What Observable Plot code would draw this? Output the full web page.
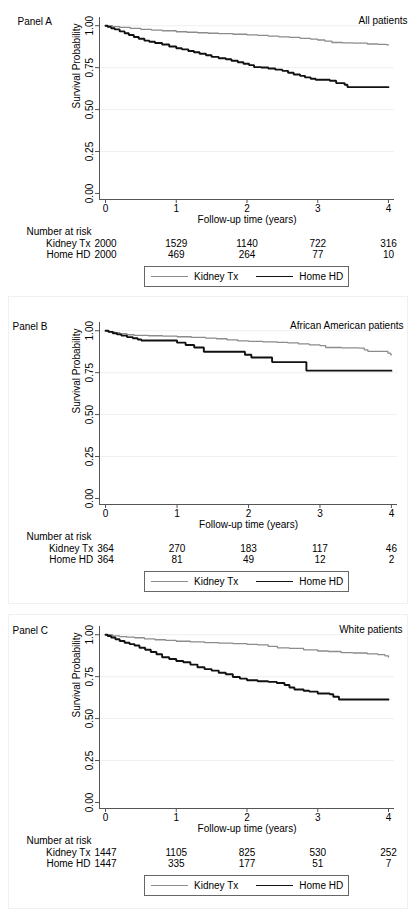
<!DOCTYPE html>
<html><head><meta charset="utf-8">
<script src="https://cdn.jsdelivr.net/npm/d3@7"></script>
<script src="https://cdn.jsdelivr.net/npm/@observablehq/plot@0.6"></script>
<style>
html,body{margin:0;padding:0;background:#fff;}
#root{position:relative;width:418px;height:918px;overflow:hidden;font-family:"Liberation Sans",Arial,Helvetica,sans-serif;color:#000;}
.panel{position:absolute;left:0;width:418px;}
.pbox{position:absolute;border:1px solid #f0f0f0;box-sizing:border-box;}
.legend{position:absolute;border:1px solid #666;box-sizing:border-box;background:#fff;display:flex;align-items:center;font-size:10px;}
.legend .sw{display:inline-block;height:0;}
.legend span{white-space:nowrap;}
svg{position:absolute;left:0;top:0;overflow:visible;}
</style>
</head><body><div id="root"></div>
<script>
// ---------- data ----------
const timeTicks = [0, 1, 2, 3, 4];
const survTicks = [0, 0.25, 0.5, 0.75, 1];
const gridTicks = [0.25, 0.5, 0.75, 1];
const groups = ["Kidney Tx", "Home HD"];
const panelLabels = ["Panel A", "Panel B", "Panel C"];
const panelTitles = ["All patients", "African American patients", "White patients"];
const xLabel = "Follow-up time (years)";
const yLabel = "Survival Probability";
const riskLabel = "Number at risk";

// Panel A: [years, survival]
const panelA_kidneyTx = [[0,1],[0.1,0.995],[0.2,0.99],[0.35,0.984],[0.5,0.978],[0.65,0.974],[0.8,0.97],[1.0,0.964],[1.15,0.961],[1.3,0.958],[1.45,0.955],[1.6,0.953],[1.8,0.949],[2.0,0.945],[2.15,0.942],[2.3,0.938],[2.45,0.934],[2.6,0.93],[2.75,0.925],[2.9,0.92],[3.0,0.915],[3.1,0.908],[3.2,0.9],[3.35,0.898],[3.5,0.896],[3.7,0.891],[3.85,0.889],[3.97,0.886],[4.0,0.886]];
const panelA_homeHD = [[0,1],[0.03,0.993],[0.08,0.985],[0.13,0.978],[0.2,0.966],[0.27,0.955],[0.33,0.945],[0.4,0.933],[0.47,0.922],[0.55,0.911],[0.62,0.904],[0.7,0.897],[0.8,0.888],[0.9,0.876],[1.0,0.866],[1.08,0.859],[1.17,0.849],[1.25,0.842],[1.33,0.833],[1.42,0.824],[1.5,0.814],[1.6,0.806],[1.7,0.8],[1.78,0.791],[1.87,0.782],[1.95,0.773],[2.03,0.765],[2.1,0.753],[2.2,0.751],[2.3,0.745],[2.4,0.738],[2.5,0.731],[2.58,0.72],[2.66,0.709],[2.75,0.701],[2.82,0.692],[2.9,0.684],[2.97,0.678],[3.17,0.672],[3.26,0.658],[3.38,0.648],[3.42,0.634],[4.0,0.634]];
const panelA_riskKidneyTx = [2000, 1529, 1140, 722, 316];
const panelA_riskHomeHD = [2000, 469, 264, 77, 10];

// Panel B
const panelB_kidneyTx = [[0,1],[0.05,0.994],[0.12,0.988],[0.2,0.982],[0.3,0.976],[0.4,0.972],[0.6,0.97],[0.8,0.968],[1.0,0.964],[1.2,0.96],[1.4,0.956],[1.55,0.952],[1.7,0.946],[1.85,0.94],[2.0,0.937],[2.2,0.933],[2.4,0.93],[2.55,0.927],[2.7,0.921],[2.85,0.916],[3.0,0.911],[3.08,0.9],[3.3,0.898],[3.55,0.896],[3.62,0.886],[3.67,0.877],[3.92,0.877],[3.95,0.866],[3.99,0.856],[4.0,0.856]];
const panelB_homeHD = [[0,1],[0.04,0.993],[0.1,0.985],[0.16,0.978],[0.22,0.971],[0.3,0.962],[0.38,0.955],[0.45,0.948],[0.5,0.942],[1.0,0.929],[1.12,0.915],[1.24,0.9],[1.375,0.875],[1.95,0.857],[2.04,0.84],[2.33,0.813],[2.81,0.762],[4.0,0.762]];
const panelB_riskKidneyTx = [364, 270, 183, 117, 46];
const panelB_riskHomeHD = [364, 81, 49, 12, 2];

// Panel C
const panelC_kidneyTx = [[0,1],[0.1,0.993],[0.2,0.989],[0.3,0.986],[0.41,0.982],[0.55,0.975],[0.7,0.97],[0.85,0.966],[1.0,0.961],[1.2,0.957],[1.4,0.953],[1.6,0.95],[1.8,0.947],[2.0,0.943],[2.15,0.94],[2.3,0.93],[2.43,0.921],[2.6,0.918],[2.8,0.91],[3.0,0.903],[3.15,0.9],[3.33,0.893],[3.5,0.891],[3.7,0.886],[3.85,0.881],[3.95,0.874],[4.0,0.867]];
const panelC_homeHD = [[0,1],[0.03,0.992],[0.08,0.983],[0.14,0.973],[0.2,0.963],[0.27,0.952],[0.34,0.944],[0.41,0.936],[0.48,0.922],[0.56,0.91],[0.64,0.897],[0.72,0.884],[0.8,0.866],[0.9,0.855],[1.0,0.843],[1.1,0.836],[1.2,0.822],[1.3,0.806],[1.4,0.795],[1.5,0.786],[1.6,0.773],[1.7,0.764],[1.8,0.748],[1.9,0.738],[2.0,0.729],[2.15,0.723],[2.3,0.719],[2.42,0.712],[2.53,0.7],[2.6,0.685],[2.67,0.673],[2.8,0.666],[2.88,0.661],[3.0,0.65],[3.17,0.645],[3.22,0.63],[3.3,0.614],[4.0,0.614]];
const panelC_riskKidneyTx = [1447, 1105, 825, 530, 252];
const panelC_riskHomeHD = [1447, 335, 177, 51, 7];

// ---------- styles ----------
const colors = {"Kidney Tx": "#8c8c8c", "Home HD": "#111111"};
const widths = {"Kidney Tx": 1.3, "Home HD": 1.9};
const xDomain = [-0.085, 4.085];
const yDomain = [-0.036, 1.049];

const panels = [
  {top: 0,   label: panelLabels[0], title: panelTitles[0], kt: panelA_kidneyTx, hd: panelA_homeHD, rk: panelA_riskKidneyTx, rh: panelA_riskHomeHD, right: 394, labelLeft: 17, titleRight: 407, box: null},
  {top: 305, label: panelLabels[1], title: panelTitles[1], kt: panelB_kidneyTx, hd: panelB_homeHD, rk: panelB_riskKidneyTx, rh: panelB_riskHomeHD, right: 397, labelLeft: 12, titleRight: 403, box: [8, 296, 400, 308]},
  {top: 609, label: panelLabels[2], title: panelTitles[2], kt: panelC_kidneyTx, hd: panelC_homeHD, rk: panelC_riskKidneyTx, rh: panelC_riskHomeHD, right: 394, labelLeft: 12, titleRight: 402, box: [8, 614, 400, 295]}
];

const root = document.getElementById("root");
const font = '"Liberation Sans", Arial, Helvetica, sans-serif';
const frameTop = 17, frameBottom = 199, frameLeft = 99, svgH = 262;

for (const p of panels) {
  if (p.box) {
    const b = document.createElement("div");
    b.className = "pbox";
    b.style.left = p.box[0] + "px"; b.style.top = p.box[1] + "px";
    b.style.width = p.box[2] + "px"; b.style.height = p.box[3] + "px";
    root.appendChild(b);
  }
  const wrap = document.createElement("div");
  wrap.className = "panel";
  wrap.style.top = p.top + "px";
  wrap.style.height = "300px";

  const series = [
    ...p.kt.map(d => ({t: d[0], s: d[1], g: groups[0]})),
    ...p.hd.map(d => ({t: d[0], s: d[1], g: groups[1]}))
  ];
  const riskRows = [p.rk, p.rh];

  const marks = [
    Plot.ruleY(gridTicks, {stroke: "#e9ecee", strokeWidth: 0.8}),
    Plot.ruleX([xDomain[0]], {stroke: "#555", strokeWidth: 1}),
    Plot.ruleY([yDomain[0]], {stroke: "#555", strokeWidth: 1}),
    Plot.axisY(survTicks, {tickFormat: d3.format(".2f"), tickRotate: -90, tickSize: 4, tickPadding: 3, fontSize: 10, stroke: "#555", fill: "#000", label: null}),
    Plot.axisX(timeTicks, {tickFormat: d3.format("d"), tickSize: 4, tickPadding: 1, fontSize: 10, stroke: "#555", fill: "#000", label: null}),
    Plot.text([yLabel], {frameAnchor: "left", rotate: -90, dx: -23, fontSize: 10, fill: "#000"}),
    Plot.text([xLabel], {frameAnchor: "bottom", dy: 23, fontSize: 10, fill: "#000"}),
    Plot.text([riskLabel], {frameAnchor: "bottom-left", textAnchor: "start", dx: 26 - frameLeft, dy: 35, fontSize: 10, fill: "#000"}),
    Plot.text([p.label], {frameAnchor: "top-left", textAnchor: "start", dx: p.labelLeft - frameLeft, dy: 0, fontSize: 10, fill: "#000"}),
    Plot.text([p.title], {frameAnchor: "top-right", textAnchor: "end", dx: p.titleRight - p.right, dy: -1, fontSize: 10, fill: "#000"}),
    Plot.line(series, {x: "t", y: "s", z: "g", stroke: d => colors[d.g], strokeWidth: d => widths[d.g], curve: "step-after", strokeLinejoin: "miter"})
  ];
  riskRows.forEach((row, r) => {
    marks.push(Plot.text(row, {x: (d, i) => timeTicks[i], text: d => String(d), frameAnchor: "bottom", dy: 47 + 11.5 * r, fontSize: 10, fill: "#000"}));
    const digits = String(row[0]).length;
    marks.push(Plot.text([groups[r]], {x: () => timeTicks[0], textAnchor: "end", frameAnchor: "bottom", dy: 47 + 11.5 * r, dx: -(digits * 5.56 / 2 + 4), fontSize: 10, fill: "#000"}));
  });

  const chart = Plot.plot({
    width: 418,
    height: svgH,
    marginTop: frameTop,
    marginBottom: svgH - frameBottom,
    marginLeft: frameLeft,
    marginRight: 418 - p.right,
    style: {fontFamily: font, fontSize: "10px", background: "transparent", overflow: "visible"},
    x: {domain: xDomain, axis: null},
    y: {domain: yDomain, axis: null},
    marks
  });
  wrap.appendChild(chart);

  // legend (HTML, below the SVG)
  const lg = document.createElement("div");
  lg.className = "legend";
  lg.style.left = "144px"; lg.style.top = "266px"; lg.style.width = "205px"; lg.style.height = "21px";
  groups.forEach((g, i) => {
    const sw = document.createElement("span");
    sw.className = "sw";
    sw.style.width = "37px";
    sw.style.borderTop = widths[g] + "px solid " + colors[g];
    sw.style.marginLeft = i === 0 ? "6px" : "18px";
    sw.style.marginRight = "6px";
    lg.appendChild(sw);
    const t = document.createElement("span");
    t.textContent = g;
    lg.appendChild(t);
  });
  wrap.appendChild(lg);
  root.appendChild(wrap);
}
</script></body></html>
